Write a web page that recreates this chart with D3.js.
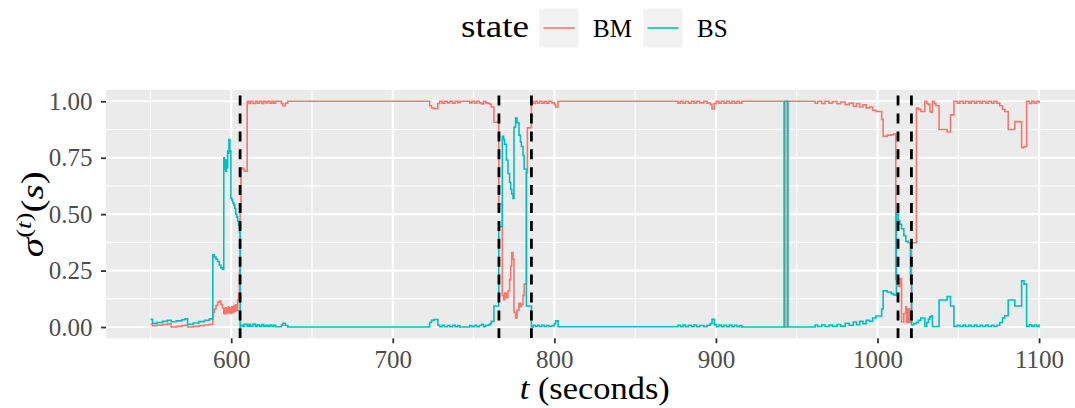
<!DOCTYPE html>
<html>
<head>
<meta charset="utf-8">
<script src="https://cdn.jsdelivr.net/npm/d3@7"></script>
<style>
  body { margin: 0; background: #ffffff; }
  svg { display: block; }
</style>
</head>
<body>
<svg id="chart" width="1075" height="408"></svg>
<script>
// Sampling times (seconds) shared by both state series
const time = [
  550.0, 551.3, 554.0, 557.5, 560.5, 562.8, 566.0, 569.5, 571.5, 573.0, 576.5, 580.0, 583.5, 586.5,
  588.6, 589.6, 590.6, 591.6, 592.6, 593.6, 594.6, 595.4, 595.8, 596.2, 596.6, 597.0, 597.4, 597.8,
  598.2, 598.6, 599.2, 599.8, 600.4, 601.0, 601.6, 602.2, 602.8, 603.4, 604.0, 604.6, 605.1, 605.5,
  606.0, 607.2, 608.0, 609.9,
  611.0, 612.0, 613.5, 615.0, 616.2, 617.5, 619.0, 620.2, 621.5, 622.7, 624.0, 625.2, 626.3, 627.5,
  631.0, 632.0, 633.5, 635.0,
  722.8, 724.0, 725.5, 727.9, 729.0, 730.5, 732.0, 733.8, 735.3, 737.0, 738.6, 740.2, 741.5,
  747.6, 749.0, 750.5, 752.0, 753.5, 755.0, 756.2, 757.5, 759.0,
  760.3, 761.0, 762.6, 765.6, 767.8, 768.6, 769.2, 770.3, 771.3, 772.3, 773.0, 773.6, 774.4, 775.0,
  776.0, 776.9, 778.1, 779.0, 779.6, 780.6, 781.3, 782.7, 783.3, 785.8,
  787.0, 788.2, 789.5, 790.8, 792.3, 793.7, 795.2, 796.6, 798.5, 800.0, 800.8, 802.3,
  876.5, 878.0, 879.6, 881.2, 883.0, 884.8, 886.5, 888.0, 890.0, 892.5, 894.5, 896.5, 897.6, 899.0,
  900.2, 901.8, 903.3, 905.0, 906.6, 908.3, 909.9, 911.5, 913.0, 914.5, 916.0,
  942.1, 942.6, 944.1, 944.6,
  961.4, 963.0, 965.5, 967.5, 970.0, 972.0, 975.0, 977.2, 980.0, 982.5, 985.0, 987.0, 989.0, 991.0,
  993.0, 995.0, 997.0, 999.0, 1002.6, 1003.5, 1006.0, 1008.5, 1010.0,
  1011.3, 1011.7, 1012.8, 1013.8, 1014.9, 1016.3, 1017.5, 1018.0, 1019.0, 1020.0, 1020.4, 1021.1,
  1022.5, 1024.1, 1025.3, 1026.8, 1029.3, 1030.5, 1031.5, 1032.4, 1033.3, 1034.0, 1035.2, 1036.2,
  1038.1, 1043.1, 1045.2, 1047.3, 1049.5, 1051.0, 1053.0, 1054.5, 1056.5, 1058.0, 1060.0, 1061.5,
  1063.5, 1065.0, 1067.0, 1068.5, 1070.5, 1072.0, 1074.0, 1075.7, 1077.4, 1078.8, 1080.9, 1085.0,
  1089.2, 1090.7, 1092.3, 1094.0, 1095.5, 1097.0, 1098.5, 1100.0
];

// Probability of state BM at each time
const bm = [
  0.012, 0.006, 0.008, 0.011, 0.014, 0.000, 0.003, 0.006, 0.008, 0.000, 0.003, 0.006, 0.009, 0.012,
  0.065, 0.080, 0.095, 0.110, 0.115, 0.100, 0.085, 0.060, 0.082, 0.058, 0.085, 0.060, 0.080, 0.065,
  0.088, 0.062, 0.085, 0.060, 0.090, 0.065, 0.095, 0.070, 0.098, 0.075, 0.120, 0.150, 0.250, 0.510,
  0.705, 0.700, 0.690, 1.000,
  0.990, 1.000, 0.990, 1.000, 0.992, 1.000, 0.990, 1.000, 0.993, 1.000, 0.991, 1.000, 0.992, 1.000,
  0.990, 0.980, 0.992, 1.000,
  0.980, 0.970, 0.967, 0.990, 1.000, 0.992, 1.000, 0.993, 1.000, 0.992, 1.000, 0.994, 1.000,
  0.993, 1.000, 0.992, 1.000, 0.993, 0.988, 1.000, 0.993, 0.990,
  0.985, 0.975, 0.907, 0.545, 0.140, 0.120, 0.150, 0.130, 0.160, 0.210, 0.270, 0.330, 0.300, 0.065,
  0.040, 0.075, 0.105, 0.090, 0.100, 0.140, 0.190, 0.683, 0.882, 1.000,
  0.990, 1.000, 0.991, 1.000, 0.992, 1.000, 0.992, 1.000, 0.993, 0.985, 0.975, 1.000,
  0.992, 1.000, 0.991, 1.000, 0.992, 1.000, 0.991, 1.000, 0.993, 1.000, 0.992, 0.985, 0.966, 0.990,
  1.000, 0.991, 1.000, 0.992, 1.000, 0.991, 1.000, 0.992, 1.000, 0.992, 1.000,
  0.000, 0.000, 1.000, 1.000,
  0.991, 1.000, 0.990, 1.000, 0.991, 0.999, 0.989, 0.997, 0.985, 0.992, 0.978, 0.990, 0.975, 0.984,
  0.970, 0.975, 0.960, 0.955, 0.920, 0.845, 0.850, 0.852, 0.855,
  0.211, 0.211, 0.180, 0.215, 0.022, 0.060, 0.090, 0.020, 0.080, 0.020, 0.020, 0.373,
  0.373, 0.970, 0.965, 0.955, 1.000, 0.990, 0.985, 0.955, 0.950, 1.000, 0.990, 0.980,
  0.875, 0.864, 0.940, 1.000, 0.992, 1.000, 0.991, 1.000, 0.992, 1.000, 0.991, 1.000,
  0.992, 1.000, 0.991, 1.000, 0.992, 1.000, 0.992, 0.980, 0.965, 0.955, 0.875, 0.910,
  0.794, 0.800, 1.000, 0.990, 1.000, 0.991, 1.000, 0.992
];

// Probability of state BS at each time
const bs = [
  0.034, 0.016, 0.020, 0.025, 0.030, 0.023, 0.027, 0.032, 0.036, 0.012, 0.018, 0.024, 0.030, 0.036,
  0.320, 0.310, 0.300, 0.290, 0.275, 0.262, 0.255, 0.750, 0.700, 0.742, 0.690, 0.735, 0.705, 0.780,
  0.770, 0.830, 0.780, 0.570, 0.562, 0.550, 0.540, 0.525, 0.500, 0.488, 0.470, 0.450, 0.420, 0.000,
  0.008, 0.004, 0.012, 0.004,
  0.012, 0.004, 0.013, 0.003, 0.010, 0.003, 0.011, 0.003, 0.008, 0.003, 0.009, 0.002, 0.008, 0.001,
  0.008, 0.016, 0.007, 0.000,
  0.020, 0.030, 0.033, 0.008, 0.001, 0.008, 0.001, 0.007, 0.001, 0.008, 0.001, 0.006, 0.000,
  0.007, 0.001, 0.008, 0.001, 0.007, 0.012, 0.001, 0.007, 0.010,
  0.015, 0.025, 0.093, 0.445, 0.845, 0.830, 0.810, 0.740, 0.680, 0.640, 0.610, 0.590, 0.570, 0.885,
  0.926, 0.905, 0.850, 0.820, 0.800, 0.760, 0.700, 0.093, 0.093, 0.000,
  0.008, 0.002, 0.008, 0.002, 0.008, 0.002, 0.007, 0.002, 0.006, 0.015, 0.027, 0.001,
  0.008, 0.001, 0.009, 0.001, 0.008, 0.001, 0.009, 0.001, 0.007, 0.001, 0.008, 0.015, 0.034, 0.010,
  0.001, 0.009, 0.001, 0.008, 0.001, 0.009, 0.001, 0.008, 0.001, 0.007, 0.000,
  0.000, 1.000, 1.000, 0.000,
  0.009, 0.002, 0.010, 0.002, 0.009, 0.003, 0.011, 0.004, 0.016, 0.008, 0.022, 0.010, 0.025, 0.015,
  0.030, 0.025, 0.040, 0.049, 0.080, 0.160, 0.155, 0.148, 0.142,
  0.142, 0.500, 0.470, 0.455, 0.435, 0.405, 0.380, 0.380, 0.373, 0.373, 0.210, 0.010,
  0.015, 0.020, 0.030, 0.040, 0.002, 0.020, 0.035, 0.045, 0.050, 0.002, 0.002, 0.002,
  0.120, 0.135, 0.093, 0.003, 0.008, 0.002, 0.009, 0.002, 0.008, 0.002, 0.009, 0.002,
  0.008, 0.002, 0.009, 0.002, 0.008, 0.002, 0.008, 0.020, 0.040, 0.050, 0.120, 0.093,
  0.205, 0.190, 0.003, 0.010, 0.003, 0.009, 0.003, 0.012
];

const states = ["BM", "BS"];
const stateColors = ["#F8766D", "#00BFC4"];

// Times of the detected switches (dashed markers)
const switchTimes = [605.5, 765.7, 785.8, 1012.7, 1021.0];

const xTicks = [600, 700, 800, 900, 1000, 1100];
const xMinor = [550, 650, 750, 850, 950, 1050];
const yTicks = [0, 0.25, 0.5, 0.75, 1];
const yMinor = [0.125, 0.375, 0.625, 0.875];

const svg = d3.select("#chart");
const FONT = "'Liberation Serif', 'DejaVu Serif', serif";

const panel = { left: 106, right: 1083.5, top: 90, bottom: 338.3 };
const x = d3.scaleLinear().domain([522.5, 1127.5]).range([panel.left, panel.right]);
const y = d3.scaleLinear().domain([-0.05, 1.05]).range([panel.bottom, panel.top]);

// panel background
svg.append("rect")
  .attr("x", panel.left).attr("y", panel.top)
  .attr("width", panel.right - panel.left).attr("height", panel.bottom - panel.top)
  .attr("fill", "#EBEBEB");

const grid = svg.append("g");
grid.selectAll(".xminor").data(xMinor).join("line")
  .attr("x1", d => x(d)).attr("x2", d => x(d))
  .attr("y1", panel.top).attr("y2", panel.bottom)
  .attr("stroke", "#ffffff").attr("stroke-width", 1.1);
grid.selectAll(".yminor").data(yMinor).join("line")
  .attr("y1", d => y(d)).attr("y2", d => y(d))
  .attr("x1", panel.left).attr("x2", panel.right)
  .attr("stroke", "#ffffff").attr("stroke-width", 1.1);
grid.selectAll(".xmajor").data(xTicks).join("line")
  .attr("x1", d => x(d)).attr("x2", d => x(d))
  .attr("y1", panel.top).attr("y2", panel.bottom)
  .attr("stroke", "#ffffff").attr("stroke-width", 2.1);
grid.selectAll(".ymajor").data(yTicks).join("line")
  .attr("y1", d => y(d)).attr("y2", d => y(d))
  .attr("x1", panel.left).attr("x2", panel.right)
  .attr("stroke", "#ffffff").attr("stroke-width", 2.1);

svg.append("clipPath").attr("id", "panel-clip")
  .append("rect")
  .attr("x", panel.left).attr("y", panel.top)
  .attr("width", panel.right - panel.left).attr("height", panel.bottom - panel.top);

const plot = svg.append("g").attr("clip-path", "url(#panel-clip)");

const series = [
  { state: states[0], color: stateColors[0], values: bm },
  { state: states[1], color: stateColors[1], values: bs }
];

const line = d3.line()
  .x(d => x(d.t))
  .y(d => y(d.v))
  .curve(d3.curveStepAfter);

plot.selectAll(".state-line").data(series).join("path")
  .attr("class", "state-line")
  .attr("fill", "none")
  .attr("stroke", d => d.color)
  .attr("stroke-width", 1.6)
  .attr("stroke-linejoin", "miter")
  .attr("d", d => line(time.map((t, i) => ({ t, v: d.values[i] }))));

// switch markers, drawn from the bottom of the panel upward
plot.selectAll(".switch").data(switchTimes).join("line")
  .attr("x1", d => x(d)).attr("x2", d => x(d))
  .attr("y1", panel.bottom).attr("y2", panel.top)
  .attr("stroke", "#000000")
  .attr("stroke-width", 2.8)
  .attr("stroke-dasharray", "10,7.9");

// axes
const xAxis = svg.append("g")
  .attr("transform", `translate(0,${panel.bottom})`)
  .call(d3.axisBottom(x).tickValues(xTicks).tickFormat(d3.format("d")).tickSize(5).tickPadding(7));
const yAxis = svg.append("g")
  .attr("transform", `translate(${panel.left},0)`)
  .call(d3.axisLeft(y).tickValues(yTicks).tickFormat(d3.format(".2f")).tickSize(5).tickPadding(8.5));

[xAxis, yAxis].forEach(a => {
  a.select(".domain").remove();
  a.selectAll(".tick line").attr("stroke", "#333333").attr("stroke-width", 1.8);
  a.selectAll(".tick text")
    .attr("fill", "#4D4D4D")
    .style("font-family", FONT)
    .style("font-size", "25px");
});

// x axis title
const xTitle = svg.append("text")
  .attr("x", (panel.left + panel.right) / 2)
  .attr("y", 399)
  .attr("text-anchor", "middle")
  .attr("textLength", 150)
  .attr("lengthAdjust", "spacingAndGlyphs")
  .style("font-family", FONT)
  .style("font-size", "31px")
  .attr("fill", "#000000");
xTitle.append("tspan").style("font-style", "italic").text("t");
xTitle.append("tspan").text(" (seconds)");

// y axis title: sigma^(t)(s)
const yTitle = svg.append("text")
  .attr("transform", `translate(43,${(panel.top + panel.bottom) / 2}) rotate(-90)`)
  .attr("text-anchor", "middle")
  .attr("textLength", 86)
  .attr("lengthAdjust", "spacingAndGlyphs")
  .style("font-family", FONT)
  .style("font-size", "32px")
  .attr("fill", "#000000");
yTitle.append("tspan").style("font-style", "italic").text("σ");
yTitle.append("tspan").attr("dy", -12).style("font-size", "22px").text("(");
yTitle.append("tspan").style("font-size", "22px").style("font-style", "italic").text("t");
yTitle.append("tspan").style("font-size", "22px").text(")");
yTitle.append("tspan").attr("dy", 12).text("(");
yTitle.append("tspan").style("font-style", "italic").text("s");
yTitle.append("tspan").text(")");

// legend
const legend = svg.append("g");
legend.append("text")
  .attr("x", 461).attr("y", 37)
  .attr("textLength", 68)
  .attr("lengthAdjust", "spacingAndGlyphs")
  .style("font-family", FONT)
  .style("font-size", "31px")
  .text("state");

const keyX = [539.5, 643.5];
const labelX = [593, 697];
series.forEach((s, i) => {
  legend.append("rect")
    .attr("x", keyX[i]).attr("y", 8.5)
    .attr("width", 39).attr("height", 39)
    .attr("fill", "#F2F2F2");
  legend.append("line")
    .attr("x1", keyX[i] + 4).attr("x2", keyX[i] + 35)
    .attr("y1", 28).attr("y2", 28)
    .attr("stroke", s.color).attr("stroke-width", 1.6);
  legend.append("text")
    .attr("x", labelX[i]).attr("y", 37)
    .style("font-family", FONT)
    .style("font-size", "25px")
    .text(s.state);
});
</script>
</body>
</html>
